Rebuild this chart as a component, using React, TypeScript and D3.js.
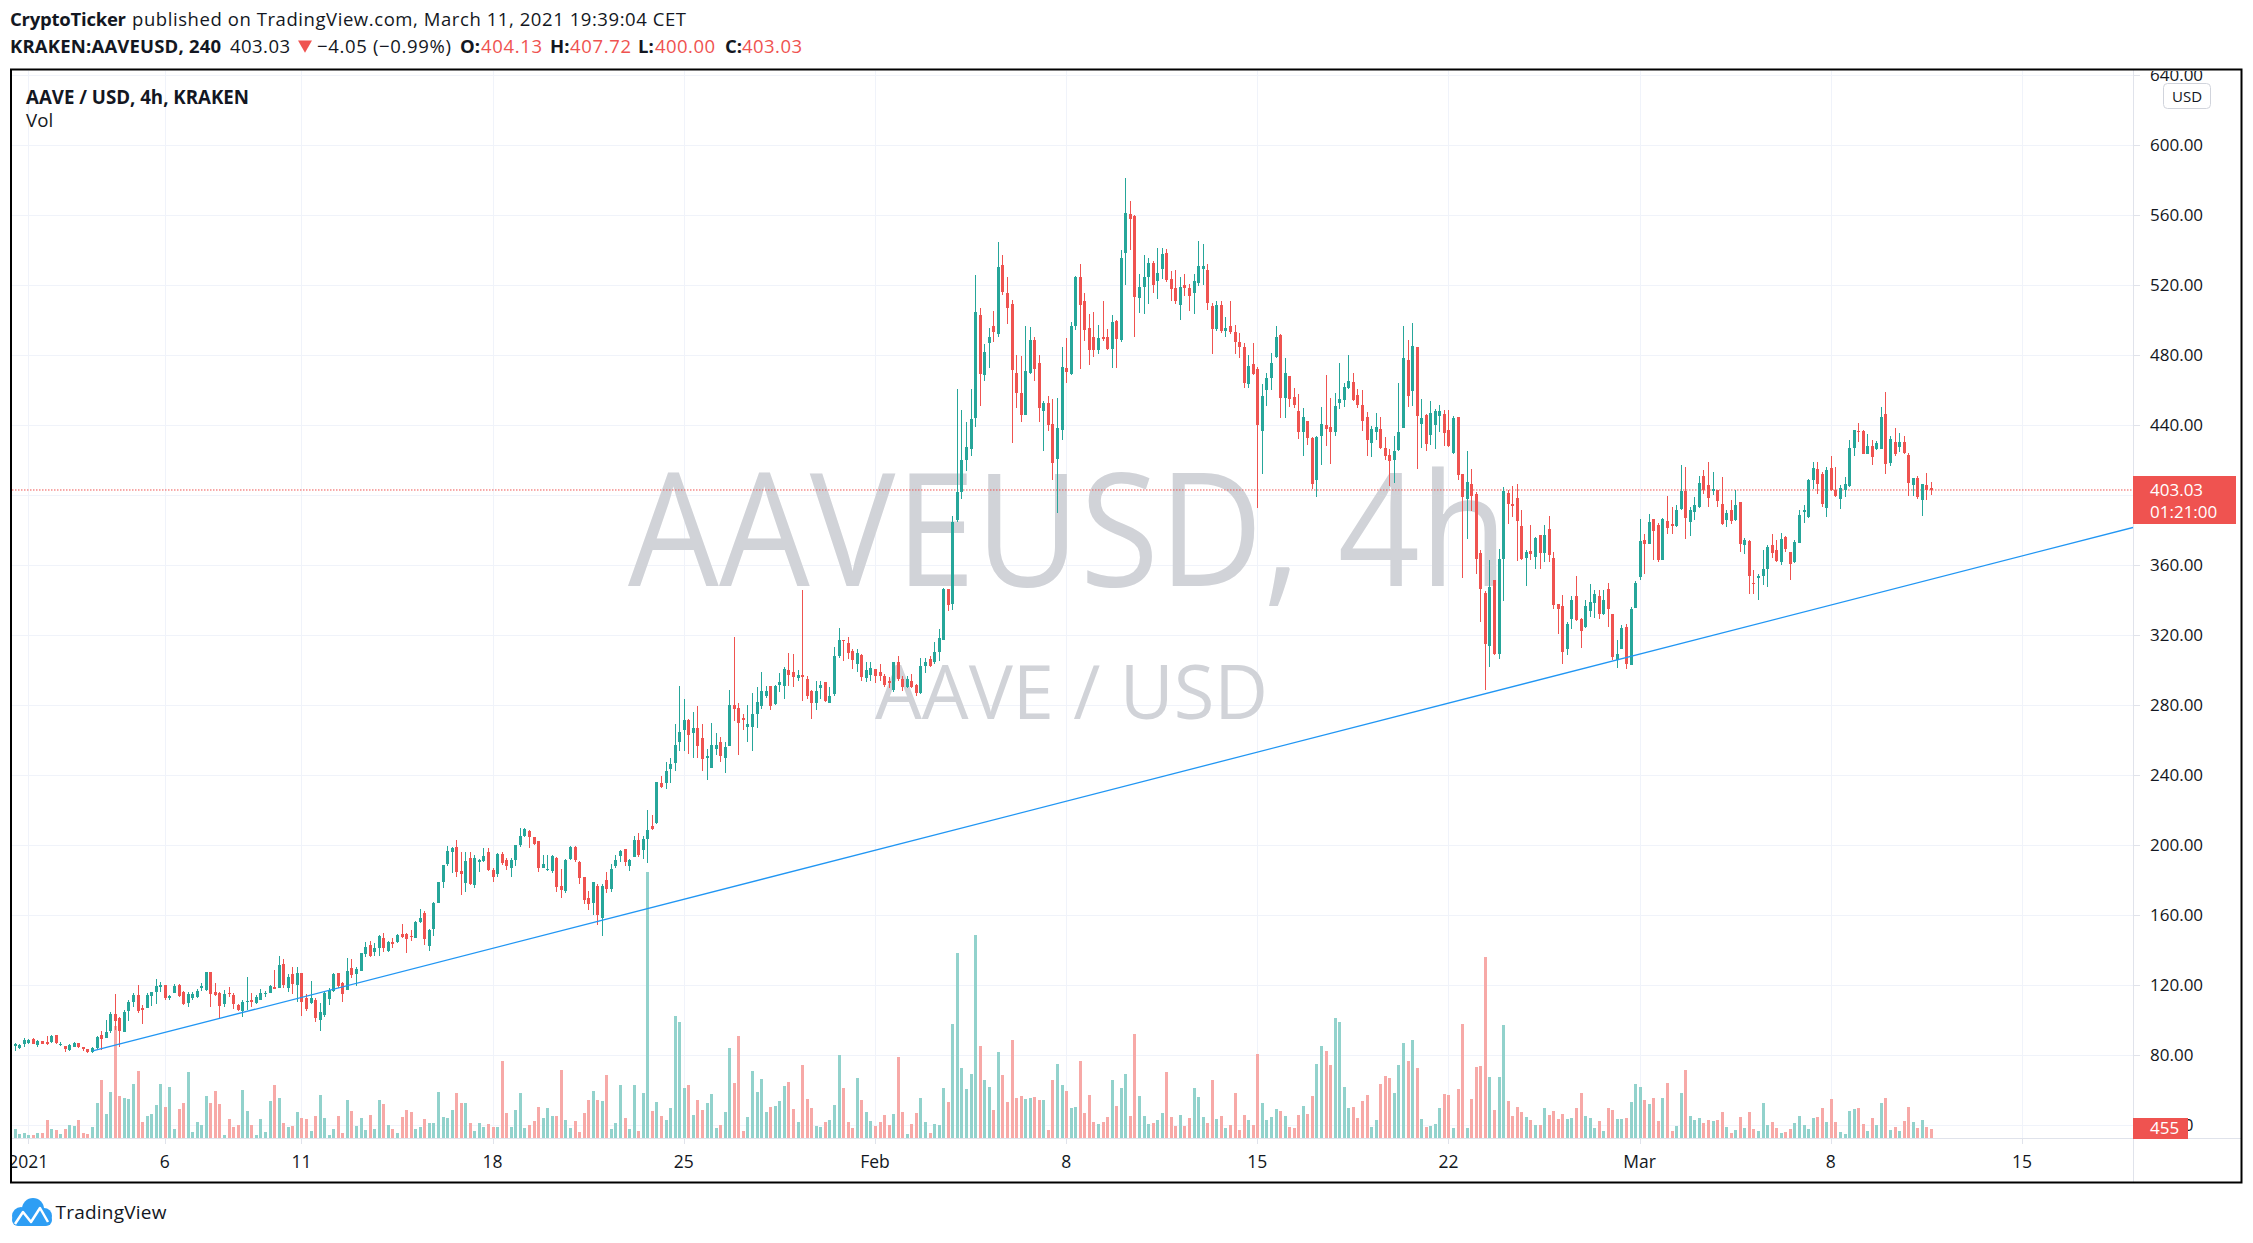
import React from 'react';
import * as d3 from 'd3';

// ---------- DATA (AAVE/USD 4h, KRAKEN) ----------
const startTime = Date.UTC(2020, 11, 31, 12); // first visible candle
const stepMs = 4 * 3600 * 1000;

const open = [
85.6,84.4,86.3,87.3,89.1,85.9,88.0,87.8,87.4,91.6,
85.7,85.1,83.0,85.0,86.9,84.8,83.4,81.7,84.2,91.6,
89.9,93.7,103.6,101.5,93.3,105.3,110.5,114.5,107.2,107.2,
114.1,116.2,119.2,120.2,112.8,115.8,120.2,116.2,110.1,113.0,
113.5,118.7,117.3,127.6,116.2,115.4,109.1,115.4,114.5,108.8,
105.5,110.5,111.6,110.1,111.6,115.4,115.8,118.9,118.7,132.2,
118.5,126.5,120.2,127.0,113.0,110.1,111.6,100.2,103.0,112.2,
117.0,126.9,121.3,117.3,129.7,126.5,128.2,138.1,143.0,139.2,
141.5,147.0,139.8,144.8,144.6,149.1,149.1,148.0,147.2,156.4,
161.1,142.5,152.2,167.2,179.0,189.1,196.2,198.9,185.3,178.3,
193,177.5,190.3,191.2,196.2,
186,183.7,195,191.8,187,191.4,200.2,205.4,208,204.9,
202.3,187,185.8,185.6,192.5,176.9,174,191.9,199.2,190.6,
182.1,169.9,167.3,176.9,158.3,180.3,175.1,188.4,194,197.9,
188.4,193.2,202.8,197.6,203.6,211.3,212.6,235.4,235.4,243.7,
246.8,259.2,265.7,271.6,263.9,267,261.3,249.9,244.2,255,
259.2,250.1,256.6,280.4,278.6,272.6,267.5,267.5,275.2,279.4,
285.6,290.8,281,291.5,290.8,300,299.3,295.4,297.5,294.9,
288.2,281.2,289.8,293.3,281.2,286.4,307.9,317.4,315.6,310.9,
303.7,308.9,295.4,297.5,300.6,299.3,296.7,294.1,289,304.5,
294.9,290.2,294.1,291.5,287.2,302.7,306.3,304.5,310.4,317.4,
346.6,338,386,402,420.1,
426.2,444.3,502.9,468.5,486.8,496.6,492.1,531.5,515.7,509.2,
470.1,458.3,445.9,469.9,488.8,475.4,448.2,452.8,441,420.7,
437.6,472.6,469.1,496.6,525,511.2,495.5,490.7,483.3,490.7,
490.7,483.7,499.6,488.8,538.7,560.6,559.4,512.8,519.1,524.6,
532.8,522.2,529.5,538.4,523.6,518.7,508.8,520.3,518.3,515.7,
521.2,529.5,528.9,507.9,495.1,508.8,493.7,496.6,493.5,487.6,
484.6,463.6,475,472,437,460.1,466.9,478.9,491.5,455.7,
468.1,456.1,448.2,436,442.3,432.5,408.5,434,440,439,
436,452.8,454.3,461.6,464.6,457.3,451.7,444.9,430.1,436.4,
438,427.2,423.3,420.3,425.8,438.4,477.4,459.7,484.6,440.9,
445.9,434.5,440.4,445.1,446.3,
437.5,424.2,444.6,412,397.7,406.7,400.6,367,344.2,313.7,
351.8,309.5,363.4,401.3,394.9,398.5,382.5,364.2,368,364.8,
377.3,367,380.6,364.4,338.1,336.6,312,329.5,342.3,329.5,
324.8,334,338.5,342.3,332.4,346.7,332,306.1,312.4,324.8,
303.2,335.8,353.3,374.7,372.4,386.3,382.9,363.2,385.1,383.8,
382.3,392.4,402.5,384.8,390.5,393.3,410.9,405.7,402.5,402.9,
394.9,385.7,391.4,385.7,396,371.4,373.9,350.1,352.9,353.7,
357.7,371.4,369,362,376.2,367.6,361.9,372.8,390.5,387.6,
409,415,412,393,415.4,403.2,397.7,403.2,405.1,427.2,
436.6,436.6,423.8,428,426.5,426.7,446.3,418.5,430.5,427.6,
430.5,422.9,405.7,409.9,397.5,405.7,404.13
];

const close = [
86.5,85.9,88.6,88.6,86.7,88.2,86.7,86.7,91.0,86.9,
86.5,83.6,85.9,86.9,84.8,83.4,81.7,84.4,90.3,89.3,
93.3,103.6,99.6,94.1,104.8,110.5,114.5,105.3,105.9,114.7,
116.2,119.6,120.4,112.6,113.9,119.6,114.1,109.3,115.0,115.0,
116.6,119.8,127.6,115.2,114.5,108.4,115.2,114.9,109.3,106.1,
110.7,110.9,110.3,113.5,115.8,115.8,119.6,117.9,131.6,120.2,
124.8,120.8,127.0,110.7,106.7,113.0,101.5,105.0,115.8,117.3,
126.5,119.8,115.2,128.2,125.9,129.5,138.5,141.9,136.8,141.3,
148.0,141.1,144.8,143.8,148.6,147.8,146.3,147.5,156.2,158.3,
146.5,151.6,167.2,179.0,188.6,196.8,198.5,184.6,183.6,191.0,
178,193,191.8,193.7,185.9,
182,195,190,188,191.8,200.2,205.4,209.3,204.9,201,
186.8,189.4,186.2,194.0,176.4,174.3,191.6,199.2,191.4,181.6,
168.6,166.5,179,160.4,176.9,175.1,186.2,191.4,196.8,190.4,
191.4,202.8,194.5,203.6,208.8,209.5,235.9,233.3,242.4,246.3,
257.1,265.0,271.6,263.1,267.0,256.6,249.4,251,257.1,257.1,
250.9,256.1,280,277.8,270.1,271.6,269.6,275.2,282.0,288.2,
288.2,279.4,290.8,293.3,300.6,297.5,296.0,297.5,296,285.1,
281.2,288.2,291.5,282.5,285.1,307.9,317.4,316.6,309.7,305.8,
309.7,296.0,300.1,301.1,296.7,296.7,291.5,292.8,304.5,294.9,
290.2,294.9,290.2,287.2,302.7,304.5,302.7,310.4,318.7,346.6,
337.3,384.7,402,420.1,427.4,
443.5,504.9,469.1,481.7,490.7,493.5,530.5,516.3,506.9,471.5,
458.3,445.9,471.1,488.8,472.2,449.8,452.8,440.0,418.7,438.4,
473.4,470.5,496.6,524.6,508.5,494.7,483.3,483.3,490.1,489.5,
483.7,499,489.5,535.4,561.6,558,513.4,519.3,524.6,533.0,
520.3,527.0,538,523,517.9,510.8,519.1,518.3,513.8,522.2,
530.9,530.9,509.8,495.1,508.8,493.7,495.5,493.5,487.6,484.6,
464,473.8,469.5,440.4,456.7,467.1,475.8,490.7,455.7,469.9,
455.3,451.4,436.0,444.9,432.5,406.5,433.5,441,438.0,436.0,
450.8,455.3,462.0,465.2,454.3,451.7,442.3,431.7,438.0,438.8,
427.2,422.3,419.7,425.6,436,478.3,456.7,485.2,445.5,444.3,
429.2,446.9,448.2,448.2,435.7,
428,444.2,411.4,399,407.4,399.4,363.4,346.3,314.9,347.6,
309.1,363.4,402.5,394.9,393.7,385.3,363.8,367.6,366.3,375.8,
367,377.1,365.7,337.5,335.2,310.5,326.7,340,328.6,322.5,
336.6,339,343.4,332,340.4,335.2,307.6,309.5,324.2,303.8,
334.9,350.1,373.7,372.4,384.6,379.6,362.9,386.7,381.5,382.3,
391.8,402.5,387,391.4,394.3,407,403.2,398.7,403.4,396.8,
383.8,389.9,385.3,394.7,372,374.7,353.7,349.5,354.1,358.1,
370.5,367,362.5,375.2,369.1,361,373.3,388.6,391.4,409,
415.4,406.3,395.2,414.3,402.9,399.4,404.4,406.7,427.2,437.1,
436,423.8,428,421.9,429.9,444.8,417.7,432.4,423.8,430.5,
424.2,407.0,409.9,399,406.3,402.9,403.03
];

const high = [
87.2,86.5,89.7,89.1,89.7,88.8,88.4,91.0,91.6,91.8,
87.8,85.3,86.5,87.4,87.2,84.8,83.6,84.6,91.0,94.1,
100.2,105.0,115.0,102.1,106.0,111.6,115.4,120.2,108.8,115.4,
116.2,123.6,122.1,120.2,114.5,120.8,120.8,116.6,116.2,116.2,
117.9,121.1,127.8,127.8,121.1,116.2,117.3,119.0,115.4,109.5,
111.6,124.8,115.4,114.5,118.1,116.6,120.2,128.8,136.8,134.9,
126.5,130.7,130.7,127.0,115.0,122.5,112.6,110.1,116.4,118.3,
127.3,127.3,122.1,135.4,134.9,130.7,138.7,145.0,145.5,144.0,
148.8,149.7,145.5,146.9,149.3,155.0,149.7,151.6,157.0,163.8,
162.6,152.0,167.8,179.0,189.0,199.6,198.9,203.0,196.2,196.0,
196.2,194.7,192.4,198.7,198.3,
187,195.5,196,193,193,200.2,210,210,208.8,205,
202.3,194.6,194.6,194.6,193.5,186.2,192.1,199.7,199.7,191,
182.1,173.8,179,177.7,177.7,184.7,189.4,194.6,197.6,198,
192.2,205.4,206.9,205.4,220.4,217.2,236.4,239.8,247.5,250.1,
269.6,290.8,283.8,272,276,279.4,269.6,255,270,264.1,
261.8,259.2,289,319.2,281.2,275.2,280.4,287.2,290.3,299.3,
290.8,291,291.5,298.5,301.9,310,309.2,300,345.9,296.7,
289,294.1,294.1,293.3,290.3,313.5,324.4,317.4,319.2,312.2,
312.2,309.5,304.5,304.5,301,303.7,298,296,304.5,308.4,
296.7,296.7,298,292,307.1,307.1,307.9,316,323.4,347.1,
346.6,388,461,448.6,442,
460.6,526,506.9,486.2,495.5,505.3,544.7,537.4,525,511.8,
480.3,479.7,497,496,490.2,480.3,453.8,456.7,455.3,455.7,
484.6,489.8,499,525.6,532,515.7,503.5,504.9,497.6,511.2,
495,502.9,500,540,581.2,567.9,560,526.6,537.4,535.4,
534,541.3,541.3,540.7,527.9,528.9,524.6,526.6,521,526.6,
545.2,543.5,532.1,509.9,511.2,510.8,502,510.8,497.4,492.5,
487.2,479.9,487.2,473.4,463.6,469.9,481.3,496.6,492,478.3,
468.1,461.6,457.7,449.8,442.3,433.5,434,450.2,468.5,455.7,
458.7,475.4,464,479.9,469.9,460.6,460,447.5,439.6,446.9,
444.9,433.1,426.6,434.1,464,497,488.8,498.4,484.6,455.3,
446.3,454.1,449.4,451.8,448.6,
448.6,445.1,444.6,412,425.3,415.2,401.9,369,345.3,362.9,
351.8,369.1,404.8,403.2,405.1,406.3,391.4,368.8,382.9,376.2,
377.3,382.9,388,367.6,338.1,342.9,327.6,342.3,353.7,330,
340.4,349.5,345.7,345.7,345.7,349.9,332.4,317.1,325.7,326.3,
336.2,351,386.3,377.7,389.1,386.3,384.2,387.2,399.4,393.3,
394.3,417.1,416.2,393.3,399,410.9,414.7,419,413.3,402.9,
410.5,391.4,397.5,403.2,396,375.8,374.3,357.1,354.9,369,
371.8,377.7,374.7,378.7,376.8,367.6,374.3,391.4,394.3,409.5,
419,419,413.3,416.2,422.3,416.2,405.7,410.5,431.8,437.5,
441.3,437.1,435.2,431.8,431,450.5,458.9,433.7,438.7,435.6,
433.7,424.2,410.1,410.9,406.5,412.8,407.72
];

const low = [
82.7,83.6,85.0,86.5,86.3,85.0,86.3,86.0,87.2,86.5,
85.3,82.1,82.4,84.6,84.4,82.6,81.3,81.1,83.8,83.0,
89.7,92.6,94.5,85.0,93.3,99.6,107.8,104.4,98.1,106.9,
108.4,109.1,116.2,111.6,111.6,115.4,113.5,108.5,107.8,111.6,
112.6,116.8,116.8,107.8,114.0,100.8,107.8,113.5,106.7,105.3,
102.0,106.1,107.8,109.3,111.6,113.5,115.4,117.9,118.7,118.7,
116.2,115.0,110.7,102.5,105.5,109.1,98.9,94.1,101.7,108.8,
116.4,118.7,110.5,117.3,124.0,119.8,128.2,136.0,136.0,136.8,
136.8,139.2,139.2,141.1,144.0,146.9,138.7,145.4,147.2,155.4,
143.0,139.8,148.2,167.2,175.7,188.4,184.2,181.7,171.8,173.3,
177.5,175.7,184.6,190.7,185.3,
179,182,189,186,182,188,199.2,204.9,198.4,200,
184.7,186.8,185.6,184.4,173.3,169.9,172.8,191.4,190.6,177.7,
166.5,162.9,160.4,154.4,148.4,172.6,173.3,186.8,190.6,188.4,
185.3,193.2,193.2,192.4,189.9,209,212,232.8,232,235.4,
242.4,254,254,252,250,250,242.4,237.1,244.2,251.4,
247.6,241.1,256.6,271.1,251.4,265.7,259.2,254,267,278,
284.1,277.3,279.9,287.7,283.8,290.8,290.3,294,282.5,283.8,
272.1,277.3,283.8,282,281.2,285.1,307.2,305.3,306.3,300.6,
299.3,294.1,293.3,294.1,292.8,294.1,290.3,290,287.7,294.1,
288.2,289.8,289.8,285.6,286.4,298.5,302,303.7,305.3,317.4,
333.7,334.5,385,398,414,
422.7,439,450.8,465.6,473,487.6,490.2,514.4,498,430.1,
449.8,441.9,445.9,469.5,465.6,441.9,425.2,437,408.9,389.8,
431.7,464,468.5,494.7,472.4,488.2,474.4,479.3,480.9,488.2,
482.9,472.8,472.8,487.6,520.3,540.3,490.5,503.9,503.5,509.2,
515.7,512.4,523.6,522,510.8,509.2,500,513.8,505.5,503.5,
519.7,520.3,505.9,480.7,493.7,492.5,490.7,492,480.9,478.3,
461.6,461.2,469,392.8,412.4,451.2,460,478.3,444.3,443.9,
450.2,450,432.1,422.7,428.6,403.6,399,417.4,428.2,418,
434,449.4,450.2,461,454,449.8,437,422.7,421.9,431.7,
426.6,420.3,405.5,407,425.2,438.4,450.2,451,414.8,427.2,
425.2,428.6,426.2,436,428.2,
427.6,423.8,409,353,374.9,391,355.2,327.6,288.6,301.9,
308.6,306.5,339.6,383.8,387.6,362.5,362.9,348,362.9,357.7,
357.9,361.9,361.9,335.2,321,303.8,308.6,323.6,328,313,
324.4,330.5,330.1,329.5,331.4,324.8,305.7,301.5,312,301,
302.9,335.5,351.4,354.9,372,362.9,361.9,362.9,378.1,378.1,
381.9,391.8,375.2,376.8,385.7,392.8,400.6,393.3,400,393.3,
382.9,381.9,383.8,385.3,367.6,366.7,343.4,343.8,340.4,348.6,
347.6,364.4,362,360,367.6,351.4,361.3,372.8,384.2,387.2,
403.8,401,393.3,387.6,402.5,399,392.4,399,404.8,422.3,
430.5,423.4,423.4,417.1,425.7,426.2,412.4,416.6,422.3,424.8,
423.8,399.4,399.4,398.1,388.2,397.1,400.00
];

// volume, in the chart's own volume-pane units
const volume = [
28,13,15,8,8,16,15,53,26,23,
11,26,38,36,53,15,12,33,104,173,
71,137,335,125,119,117,161,200,47,65,
71,98,161,92,152,26,86,104,197,17,
47,38,125,104,140,101,8,56,33,38,
143,80,38,8,56,17,110,158,119,44,
33,35,77,59,56,20,65,128,59,8,
26,65,14,113,80,36,60,23,68,26,
113,101,39,26,14,62,83,77,26,32,
56,44,44,137,63,60,83,134,104,104,
44,20,44,33,42,
34,34,231,75,34,84,135,30,39,51,
93,61,90,66,66,204,54,30,51,18,
75,114,141,114,111,189,27,45,159,60,
27,159,21,135,798,81,108,66,54,90,
366,348,150,159,69,114,84,105,132,30,
39,78,270,165,306,21,63,201,138,177,
78,93,96,111,156,168,87,48,219,117,
90,36,33,48,54,99,249,150,48,30,
180,114,78,51,36,48,69,39,72,243,
78,12,42,75,120,48,15,42,39,150,
108,342,555,210,147,
192,610,276,174,153,84,258,189,108,294,
120,126,117,120,123,114,114,24,174,222,
159,141,90,93,231,75,129,48,42,48,
63,174,96,150,192,66,312,126,66,42,
45,54,75,198,63,36,69,36,60,150,
123,63,45,174,57,66,30,39,135,24,
69,54,39,252,105,54,63,87,81,66,
33,30,69,96,72,126,222,276,261,219,
360,348,153,90,93,60,111,129,33,54,
162,186,180,135,219,285,231,294,210,57,
33,36,42,90,132,
129,30,147,342,30,117,213,216,543,183,
84,183,339,111,66,93,78,63,54,39,
39,90,69,81,57,72,57,60,90,135,
66,60,30,51,21,90,84,57,57,60,
108,162,153,114,102,120,51,120,165,21,
36,135,204,66,54,60,45,54,51,54,
78,33,15,24,63,30,78,27,21,105,
39,48,30,15,18,27,45,66,39,27,
60,63,90,48,117,48,18,12,81,87,
90,42,21,60,39,105,120,24,33,21,
51,93,48,30,54,33,27
];

const priceTicks = [40,80,120,160,200,240,280,320,360,400,440,480,520,560,600,640];
const timeTickDates = [
  Date.UTC(2021,0,1), Date.UTC(2021,0,6), Date.UTC(2021,0,11), Date.UTC(2021,0,18),
  Date.UTC(2021,0,25), Date.UTC(2021,1,1), Date.UTC(2021,1,8), Date.UTC(2021,1,15),
  Date.UTC(2021,1,22), Date.UTC(2021,2,1), Date.UTC(2021,2,8), Date.UTC(2021,2,15),
];
const timeTickLabels = ['2021','6','11','18','25','Feb','8','15','22','Mar','8','15'];

const lastPrice = 403.03;
const lastPriceLabel = '403.03';
const countdownLabel = '01:21:00';
const lastVolumeLabel = '455';

// trend line drawn on the chart: [time, price]
const trendStart: [number, number] = [Date.UTC(2021,0,3,8,36), 82.5];
const trendEnd: [number, number] = [Date.UTC(2021,2,19,1,36), 381.6];

// ---------- CHART ----------
const UP = '#26a69a';
const DOWN = '#ef5350';
const UP_VOL = '#92d2cc';
const DOWN_VOL = '#f7a9a7';
const TEXT = '#131722';
const GRID = '#f0f3fa';
const AXISLINE = '#e0e3eb';
const FONT = '"Open Sans", "Noto Sans", sans-serif';

const PL = 12, PR = 2133, PT = 70.5, PB = 1138;

export default function App() {
  const n = close.length;
  const times = d3.range(n).map(i => new Date(startTime + i * stepMs));
  const x = d3.scaleUtc()
    .domain([times[0], times[n - 1]])
    .range([14.64, 1931.0]);
  const y = d3.scaleLinear().domain([40, 600]).range([1125.3, 145.3]);
  const yv = d3.scaleLinear().domain([0, 300]).range([PB, PB - 100]);

  const candles = times.map((t, i) => {
    const o = open[i], c = close[i];
    const h = Math.max(high[i], o, c), l = Math.min(low[i], o, c);
    return { t, o, c, h, l, v: volume[i], up: c >= o };
  });

  const lastVol = candles[n - 1].v;
  const trendLine = d3.line<[number, number]>()
    .x(d => x(new Date(d[0])))
    .y(d => y(d[1]));

  return (
    <div style={{ position: 'fixed', left: 0, top: 0, width: 2253, height: 1243, background: '#fff' }}>
      <svg width={2253} height={1243} style={{ display: 'block' }} fontFamily={FONT}>
        <defs>
          <clipPath id="plot">
            <rect x={PL} y={PT} width={PR - PL} height={PB - PT} />
          </clipPath>
          <clipPath id="axisR">
            <rect x={PR} y={71} width={110} height={PB - 71} />
          </clipPath>
        </defs>
        <rect x={0} y={0} width={2253} height={1243} fill="#fff" />

        {/* header */}
        <text y={26} fontSize={18.5} fill={TEXT}>
          <tspan x={10} fontWeight={700} textLength={116}>CryptoTicker</tspan>
          <tspan x={132} textLength={554}>published on TradingView.com, March 11, 2021 19:39:04 CET</tspan>
        </text>
        <text y={52.7} fontSize={18.5} fill={TEXT}>
          <tspan x={10} fontWeight={700} textLength={211}>KRAKEN:AAVEUSD, 240</tspan>
          <tspan x={230} textLength={60}>403.03</tspan>
          <tspan x={317} textLength={134}>−4.05 (−0.99%)</tspan>
          <tspan x={460} fontWeight={700}>O:</tspan>
          <tspan x={481} fill={DOWN} textLength={61}>404.13</tspan>
          <tspan x={550} fontWeight={700}>H:</tspan>
          <tspan x={570} fill={DOWN} textLength={61}>407.72</tspan>
          <tspan x={638} fontWeight={700}>L:</tspan>
          <tspan x={655} fill={DOWN} textLength={60}>400.00</tspan>
          <tspan x={725} fontWeight={700}>C:</tspan>
          <tspan x={742} fill={DOWN} textLength={60}>403.03</tspan>
        </text>
        <path d="M298,40.5 L312,40.5 L305,52.7 Z" fill={DOWN} />

        {/* grid */}
        <g clipPath="url(#plot)">
          {priceTicks.map(p => (
            <line key={'hg' + p} x1={PL} x2={PR} y1={Math.round(y(p)) + 0.5} y2={Math.round(y(p)) + 0.5} stroke={GRID} strokeWidth={1} />
          ))}
          {timeTickDates.map(d => (
            <line key={'vg' + d} x1={Math.round(x(new Date(d))) + 0.5} x2={Math.round(x(new Date(d))) + 0.5} y1={PT} y2={PB} stroke={GRID} strokeWidth={1} />
          ))}
        </g>

        {/* watermark */}
        <g clipPath="url(#plot)" fill="#d1d3d8">
          <text x={628} y={585.5} fontSize={157} textLength={880} lengthAdjust="spacingAndGlyphs">AAVEUSD, 4h</text>
          <text x={875} y={719} fontSize={75} textLength={393} lengthAdjust="spacingAndGlyphs">AAVE / USD</text>
        </g>

        {/* legend */}
        <text x={26} y={104.3} fontSize={18.7} fontWeight={700} fill={TEXT} textLength={223}>AAVE / USD, 4h, KRAKEN</text>
        <text x={26} y={126.7} fontSize={18.7} fill={TEXT}>Vol</text>

        {/* volume */}
        <g clipPath="url(#plot)" shapeRendering="crispEdges">
          {candles.map((d, i) => {
            const cx = x(d.t);
            const top = yv(d.v);
            return <rect key={'v' + i} x={Math.round(cx) - 1} y={top} width={3} height={PB - top} fill={d.up ? UP_VOL : DOWN_VOL} />;
          })}
        </g>

        {/* last price line */}
        <line x1={PL} x2={PR} y1={y(lastPrice)} y2={y(lastPrice)} stroke={DOWN} strokeWidth={1} strokeDasharray="1.5 1.5" />

        {/* candles */}
        <g clipPath="url(#plot)" shapeRendering="crispEdges">
          {candles.map((d, i) => {
            const cx = Math.round(x(d.t));
            const col = d.up ? UP : DOWN;
            const bt = y(Math.max(d.o, d.c));
            const bb = y(Math.min(d.o, d.c));
            return (
              <g key={'c' + i}>
                <rect x={cx} y={y(d.h)} width={1} height={Math.max(1, y(d.l) - y(d.h))} fill={col} />
                <rect x={cx - 1} y={bt} width={3} height={Math.max(1, bb - bt)} fill={col} />
              </g>
            );
          })}
        </g>

        {/* trend line */}
        <g clipPath="url(#plot)">
          <path d={trendLine([trendStart, trendEnd]) || ''} fill="none" stroke="#2196f3" strokeWidth={1.3} />
        </g>

        {/* axes lines */}
        <line x1={PR + 0.5} x2={PR + 0.5} y1={70} y2={1182} stroke={AXISLINE} strokeWidth={1} />
        <line x1={11} x2={2241} y1={PB + 0.5} y2={PB + 0.5} stroke={AXISLINE} strokeWidth={1} />

        {/* price axis labels */}
        <g clipPath="url(#axisR)">
          {priceTicks.map(p => (
            <g key={'pl' + p}>
              <line x1={PR} x2={PR + 7} y1={Math.round(y(p)) + 0.5} y2={Math.round(y(p)) + 0.5} stroke={AXISLINE} />
              <text x={2150} y={y(p) + 6} fontSize={17} fill={TEXT}>{p.toFixed(2)}</text>
            </g>
          ))}
        </g>

        {/* USD button */}
        <rect x={2163.5} y={83.5} width={47} height={25} rx={4} fill="#fff" stroke="#d1d4dc" />
        <text x={2187} y={101.5} fontSize={15} fill={TEXT} textAnchor="middle">USD</text>

        {/* last price badge */}
        <rect x={PR} y={476} width={103} height={48} fill={DOWN} />
        <text x={2150} y={y(lastPrice) + 6} fontSize={17} fill="#fff">{lastPriceLabel}</text>
        <text x={2150} y={y(lastPrice) + 28} fontSize={17} fill="#fff">{countdownLabel}</text>

        {/* last volume badge */}
        <rect x={PR} y={yv(lastVol) - 11} width={55} height={21} fill={DOWN} />
        <text x={2150} y={yv(lastVol) + 5} fontSize={17} fill="#fff">{lastVolumeLabel}</text>

        {/* time axis */}
        {timeTickDates.map((d, i) => {
          const tx = x(new Date(d));
          return (
            <g key={'tl' + d}>
              <line x1={Math.round(tx) + 0.5} x2={Math.round(tx) + 0.5} y1={PB} y2={PB + 6} stroke={AXISLINE} />
              <text x={tx} y={1168} fontSize={17.5} fill={TEXT} textAnchor="middle">{timeTickLabels[i]}</text>
            </g>
          );
        })}

        {/* border */}
        <rect x={11} y={69.5} width={2230.5} height={1113} fill="none" stroke="#000" strokeWidth={2} />
        <rect x={0} y={1150} width={10} height={30} fill="#fff" />

        {/* footer logo */}
        <g>
          <circle cx={21} cy={1216} r={9} fill="#2e9ef4" />
          <circle cx={33} cy={1209} r={11} fill="#2e9ef4" />
          <circle cx={44} cy={1216} r={8} fill="#2e9ef4" />
          <rect x={12} y={1214} width={40} height={12} rx={6} fill="#2e9ef4" />
          <polyline points="15,1224 23,1212 31,1222 40,1208 48,1222" fill="none" stroke="#fff" strokeWidth={2.5} strokeLinejoin="round" />
        </g>
        <text x={55.5} y={1219} fontSize={19} fill={TEXT} textLength={111}>TradingView</text>
      </svg>
    </div>
  );
}
